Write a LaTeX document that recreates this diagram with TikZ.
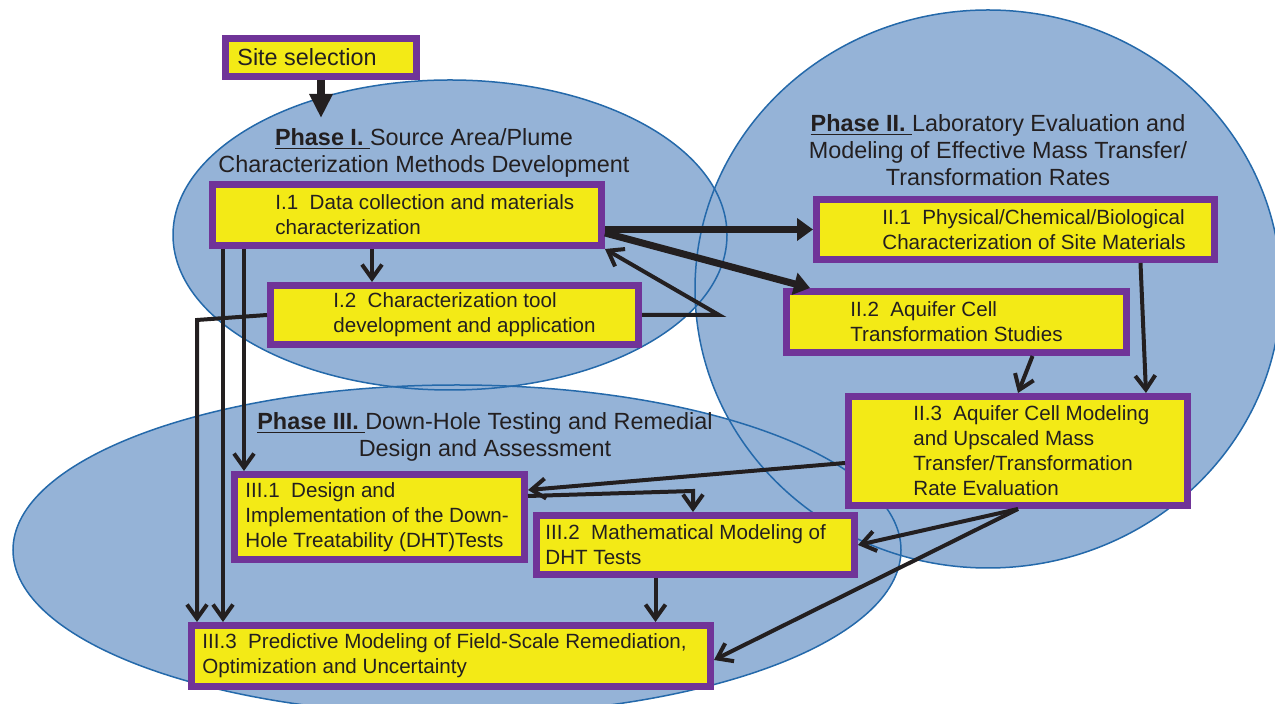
\documentclass[tikz,border=0pt]{standalone}
\usepackage{fontspec}
\setmainfont{Liberation Sans}
\usetikzlibrary{arrows.meta}
\definecolor{phasefill}{RGB}{149,179,215}
\definecolor{phaseline}{RGB}{36,105,170}
\definecolor{boxborder}{RGB}{112,52,152}
\definecolor{boxfill}{RGB}{243,234,22}
\definecolor{ink}{RGB}{35,31,32}
\begin{document}
\begin{tikzpicture}[x=0.5pt, y=-0.5pt,
  box/.style={draw=boxborder, fill=boxfill, line width=3.5pt, rectangle, inner sep=0pt},
  boxtext/.style={anchor=west, inner sep=0pt, align=left, text=ink, font=\fontsize{10.3}{12.5}\selectfont},
  phasetext/.style={align=center, inner sep=0pt, text=ink, font=\fontsize{11.7}{13.5}\selectfont},
  thin arrow/.style={draw=ink, line width=2pt, -{Straight Barb[length=7pt,width=10pt]}},
  thick arrow/.style={draw=ink, line width=3.5pt, -{Triangle[length=8pt,width=11pt]}}]

\useasboundingbox (0,0) rectangle (1275,704);

% the three phases
\fill[phasefill] (450,235) ellipse [x radius=277, y radius=155];
\fill[phasefill] (988,289) ellipse [x radius=293, y radius=279];
\fill[phasefill] (457,550) ellipse [x radius=444, y radius=165];
\draw[phaseline, line width=0.75pt] (450,235) ellipse [x radius=277, y radius=155];
\draw[phaseline, line width=0.75pt] (988,289) ellipse [x radius=293, y radius=279];
\draw[phaseline, line width=0.75pt] (457,550) ellipse [x radius=444, y radius=165];

\node[phasetext] (phIlabel) at (424,153) {\underline{\textbf{Phase I.}\ }Source Area/Plume\\Characterization Methods Development};
\node[phasetext] (phIIlabel) at (998,150) {\underline{\textbf{Phase II.}\ }Laboratory Evaluation and\\Modeling of Effective Mass Transfer/\\Transformation Rates};
\node[phasetext] (phIIIlabel) at (485,437) {\underline{\textbf{Phase III.}\ }Down-Hole Testing and Remedial\\Design and Assessment};

% boxes
\node[box, minimum width=95.5pt, minimum height=19pt] (site) at (321,57.5) {};
\node[boxtext, font=\fontsize{11.7}{13.5}\selectfont] (siteT) at ([xshift=7.5pt]site.west) {Site selection};

\node[box, minimum width=194.5pt, minimum height=30.5pt] (datacoll) at (407,215) {};
\node[boxtext] (datacollT) at ([xshift=33pt]datacoll.west) {I.1\ \ Data collection and materials\\characterization};

\node[box, minimum width=184pt, minimum height=29.5pt] (ctool) at (454.5,315) {};
\node[boxtext] (ctoolT) at ([xshift=33pt]ctool.west) {I.2\ \ Characterization tool\\development and application};

\node[box, minimum width=199pt, minimum height=30pt] (physchem) at (1015.5,229.5) {};
\node[boxtext] (physchemT) at ([xshift=34.5pt]physchem.west) {II.1\ \ Physical/Chemical/Biological\\Characterization of Site Materials};

\node[box, minimum width=170pt, minimum height=30.5pt] (cell) at (956.5,322) {};
\node[boxtext] (cellT) at ([xshift=33.5pt]cell.west) {II.2\ \ Aquifer Cell\\Transformation Studies};

\node[box, minimum width=169.5pt, minimum height=54.5pt] (upscale) at (1018,451) {};
\node[boxtext] (upscaleT) at ([xshift=34pt]upscale.west) {II.3\ \ Aquifer Cell Modeling\\and Upscaled Mass\\Transfer/Transformation\\Rate Evaluation};

\node[box, minimum width=145pt, minimum height=42.5pt] (design) at (379.5,517) {};
\node[boxtext] (designT) at ([xshift=7pt]design.west) {III.1\ \ Design and\\Implementation of the Down-\\Hole Treatability (DHT)Tests};

\node[box, minimum width=159pt, minimum height=29.5pt] (mathmod) at (695.5,545) {};
\node[boxtext] (mathmodT) at ([xshift=6pt]mathmod.west) {III.2\ \ Mathematical Modeling of\\DHT Tests};

\node[box, minimum width=259.5pt, minimum height=30.5pt] (predict) at (451,656) {};
\node[boxtext] (predictT) at ([xshift=7pt]predict.west) {III.3\ \ Predictive Modeling of Field-Scale Remediation,\\Optimization and Uncertainty};

% connectors
\coordinate (phIentry) at (321,118);
\coordinate (ctbend) at (719,315);
\coordinate (ctleft) at (197,320);
\coordinate (mmbend) at (693,491);

\draw[draw=ink, line width=4pt, -{Triangle[length=12pt,width=11pt]}] (site.south) -- (phIentry);
\draw[thick arrow] (datacoll.east |- physchem.west) -- (physchem.west);
\draw[thick arrow] ([yshift=-9pt]datacoll.east) -- ([xshift=13.5pt]cell.north west);

\draw[thin arrow] ([xshift=-17.5pt]datacoll.south) -- ([xshift=-17.5pt]datacoll.south |- ctool.north);
\draw[thin arrow] (ctool.east) -- (ctbend) -- (datacoll.south east);
\draw[thin arrow] (ctool.west) -- (ctleft) -- (ctleft |- predict.north);
\draw[thin arrow] ([xshift=7pt]datacoll.south west) -- ([xshift=7pt]datacoll.south west |- predict.north);
\draw[thin arrow] ([xshift=17.5pt]datacoll.south west) -- ([xshift=17.5pt]datacoll.south west |- design.north);

\draw[thin arrow] ([xshift=62.5pt]physchem.south) -- ([xshift=64pt]upscale.north);
\draw[thin arrow] ([xshift=38pt]cell.south) -- (upscale.north);
\draw[thin arrow] ([yshift=-6pt]upscale.west) -- ([yshift=13.5pt]design.east);
\draw[thin arrow] ([yshift=10.5pt]design.east) -- (mmbend) -- (mmbend |- mathmod.north);
\draw[thin arrow] (upscale.south) -- (mathmod.east);
\draw[thin arrow] (upscale.south) -- ([yshift=-2pt]predict.east);
\draw[thin arrow] ([xshift=-20pt]mathmod.south) -- ([xshift=-20pt]mathmod.south |- predict.north);
\end{tikzpicture}
\end{document}
